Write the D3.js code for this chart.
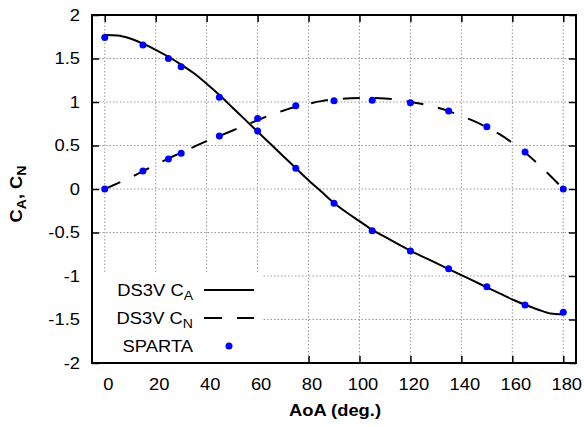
<!DOCTYPE html>
<html>
<head>
<meta charset="utf-8">
<script src="https://cdn.jsdelivr.net/npm/d3@7"></script>
<style>
  body { margin:0; background:#fff; }
  text { font-family:"Liberation Sans", Arial, sans-serif; }
</style>
</head>
<body>
<div id="chart"></div>
<script>
// DS3V curves
var curveAoA = [0,5,10,15,20,25,30,35,40,45,50,55,60,65,70,75,80,85,90,95,100,105,110,115,120,125,130,135,140,145,150,155,160,165,170,175,180];
var ds3vCA = [1.77,1.765,1.73,1.67,1.60,1.52,1.43,1.33,1.21,1.08,0.94,0.80,0.66,0.52,0.38,0.24,0.10,-0.03,-0.16,-0.27,-0.37,-0.47,-0.55,-0.63,-0.71,-0.78,-0.85,-0.92,-0.99,-1.06,-1.13,-1.20,-1.27,-1.33,-1.385,-1.43,-1.44];
var ds3vCN = [0,0.065,0.13,0.205,0.28,0.35,0.42,0.485,0.55,0.61,0.67,0.73,0.79,0.85,0.90,0.945,0.98,1.01,1.03,1.04,1.045,1.045,1.04,1.025,1.00,0.975,0.94,0.895,0.84,0.78,0.71,0.63,0.53,0.42,0.29,0.15,0.0];

// SPARTA points
var spartaAoA = [0,15,25,30,45,60,75,90,105,120,135,150,165,180];
var spartaCA = [1.74,1.655,1.50,1.405,1.054,0.667,0.238,-0.165,-0.479,-0.713,-0.916,-1.123,-1.333,-1.418];
var spartaCN = [0.0,0.207,0.345,0.41,0.609,0.81,0.958,1.015,1.02,0.99,0.897,0.716,0.425,0.0];

var xTicks = [0,20,40,60,80,100,120,140,160,180];
var yTicks = [-2,-1.5,-1,-0.5,0,0.5,1,1.5,2];

var W = 584, H = 427;
var L = 92, R = 576, T = 15, B = 363;
var SX = 1.08; // the original text is a bit wide
var FS = 17;

var svg = d3.select("#chart").append("svg")
  .attr("width", W)
  .attr("height", H);

var x = d3.scaleLinear().domain([-5, 185]).range([L, R]);
var y = d3.scaleLinear().domain([-2, 2]).range([B, T]);

// put a text at (px,py), stretched sideways
function wideText(px, py) {
  return svg.append("text")
    .attr("transform", "translate(" + px + "," + py + ") scale(" + SX + ",1)");
}

// grid
svg.append("g").selectAll("line").data(xTicks).enter().append("line")
  .attr("x1", function(d){ return x(d); }).attr("x2", function(d){ return x(d); })
  .attr("y1", T).attr("y2", B)
  .attr("stroke", "#999").attr("stroke-width", 1).attr("stroke-dasharray", "1.5,2");
svg.append("g").selectAll("line").data(yTicks.slice(1, -1)).enter().append("line")
  .attr("x1", L).attr("x2", R)
  .attr("y1", function(d){ return y(d); }).attr("y2", function(d){ return y(d); })
  .attr("stroke", "#999").attr("stroke-width", 1).attr("stroke-dasharray", "1.5,2");

// axes with inward ticks, mirrored
var fmt = function(d){ return String(d); };
function tickStyle(g) {
  g.select(".domain").remove();
  g.selectAll(".tick line").attr("stroke", "#000").attr("stroke-width", 1.5);
}
svg.append("g").attr("transform", "translate(0," + B + ")")
  .call(d3.axisBottom(x).tickValues(xTicks).tickSize(-7).tickPadding(0).tickFormat(fmt))
  .call(tickStyle)
  .call(function(g){
    g.selectAll(".tick text").attr("font-size", FS).attr("fill", "#000")
      .attr("font-family", "Liberation Sans, Arial, sans-serif")
      .attr("x", 3 / SX).attr("y", 27).attr("dy", null)
      .attr("transform", "scale(" + SX + ",1)");
  });
svg.append("g").attr("transform", "translate(0," + T + ")")
  .call(d3.axisTop(x).tickValues(xTicks).tickSize(-7).tickFormat(""))
  .call(tickStyle);
svg.append("g").attr("transform", "translate(" + L + ",0)")
  .call(d3.axisLeft(y).tickValues(yTicks).tickSize(-7).tickPadding(12).tickFormat(fmt))
  .call(tickStyle)
  .call(function(g){
    g.selectAll(".tick text").attr("font-size", FS).attr("fill", "#000")
      .attr("font-family", "Liberation Sans, Arial, sans-serif")
      .attr("x", -12 / SX).attr("transform", "scale(" + SX + ",1)");
  });
svg.append("g").attr("transform", "translate(" + R + ",0)")
  .call(d3.axisRight(y).tickValues(yTicks).tickSize(-7).tickFormat(""))
  .call(tickStyle);

// curves
var line = d3.line().curve(d3.curveMonotoneX)
  .x(function(d){ return x(d[0]); })
  .y(function(d){ return y(d[1]); });

svg.append("path")
  .datum(d3.zip(curveAoA, ds3vCA))
  .attr("d", line).attr("fill", "none").attr("stroke", "#000").attr("stroke-width", 2);
svg.append("path")
  .datum(d3.zip(curveAoA, ds3vCN))
  .attr("d", line).attr("fill", "none").attr("stroke", "#000").attr("stroke-width", 2)
  .attr("stroke-dasharray", "17,15");

// SPARTA points
var pts = d3.zip(spartaAoA, spartaCA).concat(d3.zip(spartaAoA, spartaCN));
svg.append("g").selectAll("circle").data(pts).enter().append("circle")
  .attr("cx", function(d){ return x(d[0]); })
  .attr("cy", function(d){ return y(d[1]); })
  .attr("r", 3.5).attr("fill", "#0000ff");

// legend
svg.append("rect").attr("x", L + 1).attr("y", 273).attr("width", 170).attr("height", B - 274)
  .attr("fill", "#fff");
var leg = [
  {name:"DS3V C", sub:"A", y:290, type:"solid"},
  {name:"DS3V C", sub:"N", y:318, type:"dash"},
  {name:"SPARTA", sub:"", y:346, type:"dot"}
];
leg.forEach(function(d){
  var t = wideText(193, d.y + 6)
    .attr("text-anchor", "end").attr("font-size", FS).attr("fill", "#000");
  t.append("tspan").text(d.name);
  if (d.sub) t.append("tspan").attr("dy", 4).attr("font-size", 13).text(d.sub);
  if (d.type === "dot") {
    svg.append("circle").attr("cx", 229).attr("cy", d.y).attr("r", 3.5).attr("fill", "#0000ff");
  } else {
    svg.append("line").attr("x1", 204).attr("x2", 254).attr("y1", d.y).attr("y2", d.y)
      .attr("stroke", "#000").attr("stroke-width", 2)
      .attr("stroke-dasharray", d.type === "dash" ? "18,15" : null);
  }
});

// frame
svg.append("rect").attr("x", L).attr("y", T).attr("width", R - L).attr("height", B - T)
  .attr("fill", "none").attr("stroke", "#000").attr("stroke-width", 2);

// axis titles
wideText(335, 416).attr("text-anchor", "middle")
  .attr("font-size", FS).attr("font-weight", "bold").text("AoA (deg.)");
var yl = svg.append("text").attr("transform", "translate(22,194) rotate(-90) scale(" + SX + ",1)")
  .attr("text-anchor", "middle").attr("font-size", FS).attr("font-weight", "bold");
yl.append("tspan").text("C");
yl.append("tspan").attr("dy", 4).attr("font-size", 13).text("A");
yl.append("tspan").attr("dy", -4).text(", C");
yl.append("tspan").attr("dy", 4).attr("font-size", 13).text("N");
</script>
</body>
</html>
